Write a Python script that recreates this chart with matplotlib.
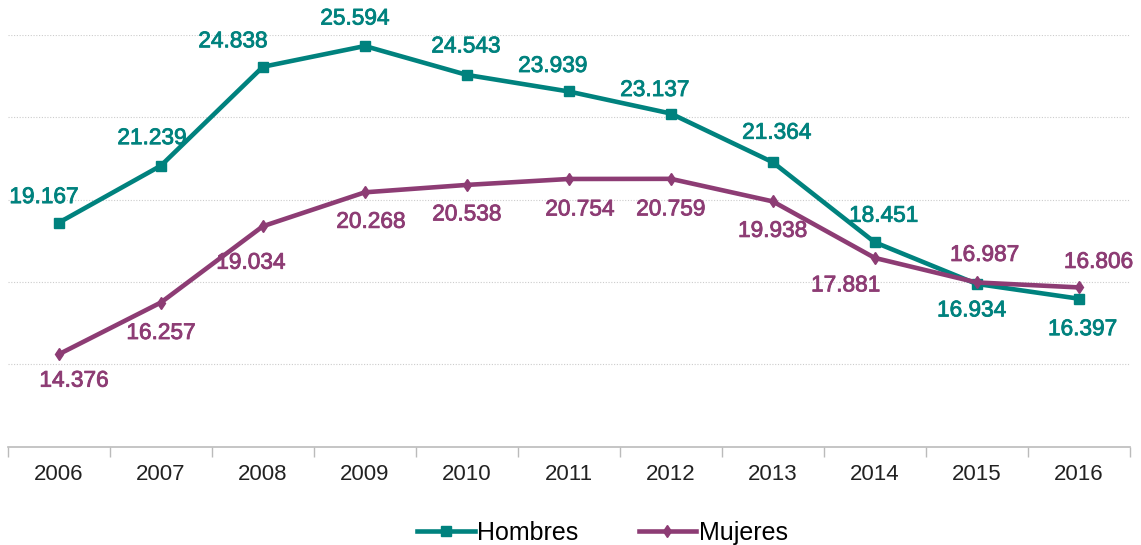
import matplotlib
matplotlib.use("Agg")
import matplotlib.pyplot as plt
import matplotlib.patheffects as pe

years = ["2006", "2007", "2008", "2009", "2010", "2011", "2012", "2013", "2014", "2015", "2016"]
hombres = [19.167, 21.239, 24.838, 25.594, 24.543, 23.939, 23.137, 21.364, 18.451, 16.934, 16.397]
mujeres = [14.376, 16.257, 19.034, 20.268, 20.538, 20.754, 20.759, 19.938, 17.881, 16.987, 16.806]

# label offsets in pixels (dx, dy), picked by eye
off_h = [(-15, 26), (-9, 28), (-30, 26), (-10, 28), (-1, 29), (-16, 26), (-16, 24), (4, 30), (9, 27), (-5, -26), (4, -30)]
off_m = [(15, -26), (0, -30), (-12, -36), (6, -29), (0, -29), (11, -30), (0, -30), (0, -29), (-29, -27), (8, 28), (20, 26)]

teal = "#00827e"
purple = "#8d3c74"

plt.rcParams['font.family'] = ['Liberation Sans', 'DejaVu Sans']

fig = plt.figure(figsize=(11.41, 5.45), dpi=100)
ax = fig.add_axes([0.007, 0.180, 0.983, 0.756])

x = list(range(len(years)))
ax.plot(x, hombres, color=teal, lw=3.3, marker="s", ms=7, label="Hombres", zorder=3)
ax.plot(x, mujeres, color=purple, lw=3.3, marker="d", ms=6, label="Mujeres", zorder=3)

for i in x:
    ax.annotate(f"{hombres[i]:.3f}", (i, hombres[i]), xytext=off_h[i], textcoords="offset pixels",
                ha="center", va="center", color=teal, fontsize=16.3, annotation_clip=False,
                path_effects=[pe.withStroke(linewidth=0.6, foreground=teal)])
    ax.annotate(f"{mujeres[i]:.3f}", (i, mujeres[i]), xytext=off_m[i], textcoords="offset pixels",
                ha="center", va="center", color=purple, fontsize=16.3, annotation_clip=False,
                path_effects=[pe.withStroke(linewidth=0.6, foreground=purple)])

ax.set_xlim(-0.5, len(years) - 0.5)
ax.set_ylim(11, 26)
ax.set_yticks([14, 17, 20, 23, 26])
ax.yaxis.grid(True, color="#cccccc", linestyle=(0, (1, 1.5)), lw=0.8)
ax.set_axisbelow(True)
ax.tick_params(axis="y", left=False, labelleft=False)

ax.set_xticks(x)
ax.set_xticklabels(years, fontsize=16, color="#222222")
ax.tick_params(axis="x", length=0, pad=12)
ax.set_xticks([i - 0.5 for i in range(len(years) + 1)], minor=True)
ax.tick_params(axis="x", which="minor", length=7, color="#bbbbbb", width=1)

for s in ["top", "right", "left"]:
    ax.spines[s].set_visible(False)
ax.spines["bottom"].set_color("#bbbbbb")
ax.spines["bottom"].set_linewidth(1.2)

ax.legend(loc="center", bbox_to_anchor=(0.53, -0.208), ncol=2, frameon=False,
          fontsize=18, handlelength=2.3, handletextpad=0.1, columnspacing=2.4)

fig.savefig("out.png", dpi=100)
